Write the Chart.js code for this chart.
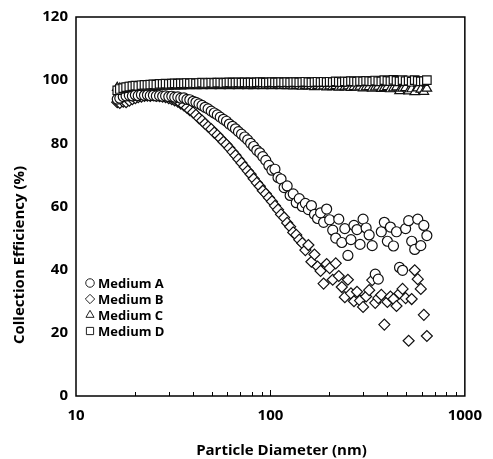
<!DOCTYPE html>
<html>
<head>
<meta charset="utf-8">
<script src="https://cdn.jsdelivr.net/npm/chart.js@4.4.0/dist/chart.umd.min.js"></script>
<style>
  html, body { margin: 0; padding: 0; background: #fff; }
  #wrap { width: 493px; height: 459px; }
</style>
</head>
<body>
<div id="wrap"><canvas id="effChart" width="493" height="459"></canvas></div>
<script>
// SMPS channel midpoints (nm)
const diameters = [
  16.3, 16.8, 17.5, 18.1, 18.8, 19.5, 20.2, 20.9, 21.7, 22.5,
  23.3, 24.1, 25.0, 25.9, 26.9, 27.9, 28.9, 30.0, 31.1, 32.2,
  33.4, 34.6, 35.9, 37.2, 38.5, 40.0, 41.4, 42.9, 44.5, 46.1,
  47.8, 49.6, 51.4, 53.3, 55.2, 57.3, 59.4, 61.5, 63.8, 66.1,
  68.5, 71.0, 73.7, 76.4, 79.1, 82.0, 85.1, 88.2, 91.4, 94.7,
  98.2, 101.8, 105.5, 109.4, 113.4, 117.6, 121.9, 126.3, 131.0, 135.8,
  140.7, 145.9, 151.2, 156.8, 162.5, 168.5, 174.7, 181.1, 187.7, 194.6,
  201.7, 209.1, 216.7, 224.7, 232.9, 241.4, 250.3, 259.5, 269.0, 278.8,
  289.0, 299.6, 310.6, 322.0, 333.8, 346.0, 358.7, 371.8, 385.4, 399.5,
  414.2, 429.4, 445.1, 461.4, 478.3, 495.8, 514.0, 532.8, 552.3, 572.5,
  593.5, 615.3, 637.8
];

// collection efficiency (%) per channel
const mediumA = [
  94.0, 94.3, 94.8, 95.0, 95.2, 95.0, 95.3, 95.1, 95.4, 95.2,
  95.3, 95.1, 95.2, 95.0, 95.1, 94.9, 95.0, 94.8, 94.9, 94.6,
  94.7, 94.3, 94.4, 93.9, 93.8, 93.3, 93.0, 92.5, 92.0, 91.4,
  90.9, 90.2, 89.6, 89.0, 88.3, 87.6, 87.0, 86.1, 85.4, 84.6,
  83.7, 82.9, 82.0, 81.1, 80.0, 79.0, 77.8, 77.0, 75.8, 74.6,
  73.0, 71.5, 71.8, 69.2, 68.7, 66.0, 66.5, 63.5, 64.0, 61.2,
  62.5, 60.0, 61.0, 59.0, 60.3, 57.5, 56.2, 58.0, 55.0, 59.2,
  55.8, 52.5, 50.0, 56.0, 48.6, 53.0, 44.5, 49.5, 54.0, 52.7,
  48.0, 56.0, 53.2, 51.0, 47.6, 38.6, 37.0, 52.0, 55.0, 49.0,
  53.5, 47.5, 52.0, 40.7, 39.8, 53.0, 55.5, 49.0, 46.4, 56.0,
  47.6, 54.0, 50.8
];
const mediumB = [
  93.0, 92.8, 93.2, 93.0, 93.5, 94.0, 94.3, 94.6, 94.8, 95.0,
  95.1, 95.0, 95.2, 95.0, 94.9, 94.8, 94.6, 94.3, 94.0, 93.6,
  93.2, 92.6, 92.0, 91.3, 90.5, 89.8, 89.0, 88.0, 87.2, 86.2,
  85.3, 84.5, 83.4, 82.6, 81.6, 80.5, 79.6, 78.5, 77.3, 76.2,
  75.0, 73.8, 72.5, 71.3, 70.2, 68.8, 67.5, 66.4, 65.0, 64.0,
  62.8, 61.6, 60.2, 59.0, 57.5, 56.5, 54.8, 53.6, 51.8, 51.0,
  49.5, 48.4, 46.2, 47.8, 42.5, 44.8, 41.0, 39.6, 35.6, 41.8,
  40.5, 36.8, 42.0, 38.0, 34.5, 31.3, 36.8, 32.5, 30.0, 33.0,
  30.2, 28.2, 31.5, 33.5, 36.7, 29.5, 31.0, 32.0, 22.6, 29.8,
  31.5, 30.7, 28.5, 32.5, 33.9, 31.0, 17.5, 30.7, 39.8, 37.0,
  33.9, 25.7, 19.0
];
const mediumC = [
  97.6, 97.4, 97.3, 97.5, 97.6, 97.7, 97.8, 97.7, 97.9, 97.8,
  97.9, 98.0, 97.9, 98.0, 98.1, 98.0, 98.1, 98.0, 98.2, 98.1,
  98.2, 98.1, 98.2, 98.3, 98.2, 98.3, 98.2, 98.3, 98.2, 98.3,
  98.3, 98.2, 98.4, 98.3, 98.2, 98.4, 98.3, 98.2, 98.4, 98.3,
  98.2, 98.3, 98.4, 98.2, 98.3, 98.2, 98.4, 98.3, 98.2, 98.3,
  98.3, 98.2, 98.3, 98.4, 98.2, 98.3, 98.2, 98.3, 98.1, 98.3,
  98.2, 98.0, 98.3, 98.1, 98.2, 97.9, 98.2, 98.0, 98.1, 97.8,
  98.1, 97.9, 98.2, 97.7, 98.0, 97.8, 98.1, 97.6, 97.9, 97.7,
  98.0, 97.5, 97.8, 97.9, 97.4, 97.7, 98.0, 97.3, 97.6, 97.9,
  97.2, 97.5, 97.8, 96.6, 97.4, 97.6, 96.5, 97.2, 96.3, 97.5,
  97.1, 96.4, 97.4
];
const mediumD = [
  96.8, 97.2, 97.5, 97.8, 98.0, 98.1, 98.3, 98.2, 98.4, 98.5,
  98.5, 98.6, 98.7, 98.6, 98.8, 98.8, 98.9, 98.8, 98.9, 99.0,
  98.9, 99.0, 99.0, 99.1, 99.0, 99.1, 99.0, 99.1, 99.2, 99.1,
  99.1, 99.2, 99.1, 99.2, 99.2, 99.1, 99.2, 99.3, 99.2, 99.2,
  99.3, 99.2, 99.3, 99.2, 99.3, 99.2, 99.3, 99.4, 99.3, 99.2,
  99.3, 99.4, 99.3, 99.3, 99.4, 99.3, 99.4, 99.3, 99.4, 99.4,
  99.3, 99.4, 99.5, 99.4, 99.3, 99.4, 99.5, 99.4, 99.5, 99.4,
  99.5, 99.4, 99.6, 99.5, 99.4, 99.6, 99.5, 99.7, 99.6, 99.5,
  99.7, 99.6, 99.8, 99.7, 99.6, 99.9, 99.7, 99.6, 100.0, 99.8,
  99.7, 100.1, 99.8, 99.6, 100.0, 99.7, 99.9, 99.5, 100.0, 99.8,
  99.6, 99.7, 100.0
];

const yTicks = [0, 20, 40, 60, 80, 100, 120];
const xLabels = [10, 100, 1000];
const xInnerTicks = [20, 30, 40, 50, 60, 70, 80, 90, 100, 200, 300, 400, 500, 600, 700, 800, 900];

const FONT = '"Open Sans", "Noto Sans", Arial, sans-serif';

const toPoints = vals => diameters.map((d, i) => ({ x: d, y: vals[i] }));

const markerLook = { backgroundColor: '#fff', borderColor: '#111', borderWidth: 1.2, showLine: false };

// frame, inner x ticks, axis titles and the in-plot legend
const decorations = {
  id: 'decorations',
  afterDraw(chart) {
    const { ctx, chartArea: a, scales: { x } } = chart;
    ctx.save();

    ctx.strokeStyle = '#000';
    ctx.lineWidth = 1.5;
    ctx.strokeRect(a.left, a.top, a.right - a.left, a.bottom - a.top);

    ctx.lineWidth = 1;
    ctx.beginPath();
    xInnerTicks.forEach(v => {
      const px = Math.round(x.getPixelForValue(v)) + 0.5;
      const len = v === 100 ? 6 : 4;
      ctx.moveTo(px, a.bottom);
      ctx.lineTo(px, a.bottom - len);
    });
    ctx.stroke();

    ctx.fillStyle = '#000';
    ctx.font = 'bold 15px ' + FONT;
    ctx.textAlign = 'center';
    ctx.textBaseline = 'middle';
    ctx.fillText('Particle Diameter (nm)', (a.left + a.right) / 2 + 11, a.bottom + 55);

    ctx.save();
    ctx.translate(a.left - 56, a.top + 238);
    ctx.rotate(-Math.PI / 2);
    ctx.fillText('Collection Efficiency (%)', 0, 0);
    ctx.restore();

    // legend
    const lx = a.left + 14;
    const ly0 = a.top + 266;
    ctx.font = 'bold 13px ' + FONT;
    ctx.textAlign = 'left';
    chart.data.datasets.forEach((ds, i) => {
      const ly = ly0 + i * 16;
      ctx.fillStyle = '#fff';
      ctx.strokeStyle = '#222';
      ctx.lineWidth = 1;
      Chart.helpers.drawPoint(ctx, {
        pointStyle: ds.pointStyle, rotation: 0,
        radius: ds.pointRadius * 0.85, borderWidth: 1
      }, lx, ly);
      ctx.fillStyle = '#000';
      ctx.fillText(ds.label, lx + 8, ly + 1);
    });

    ctx.restore();
  }
};

new Chart(document.getElementById('effChart'), {
  type: 'scatter',
  data: {
    datasets: [
      { label: 'Medium A', data: toPoints(mediumA), pointStyle: 'circle', pointRadius: 5, order: 2, ...markerLook },
      { label: 'Medium B', data: toPoints(mediumB), pointStyle: 'rectRot', pointRadius: 5.5, order: 3, ...markerLook },
      { label: 'Medium C', data: toPoints(mediumC), pointStyle: 'triangle', pointRadius: 5.5, order: 1, ...markerLook },
      { label: 'Medium D', data: toPoints(mediumD), pointStyle: 'rect', pointRadius: 6, order: 0, ...markerLook }
    ]
  },
  options: {
    responsive: false,
    animation: false,
    devicePixelRatio: 1,
    layout: { padding: { left: 0, right: 21, top: 7, bottom: 0 } },
    plugins: {
      legend: { display: false },
      tooltip: { enabled: false }
    },
    scales: {
      x: {
        type: 'logarithmic',
        min: 10,
        max: 1000,
        grid: { display: false, drawTicks: false },
        border: { display: false },
        afterBuildTicks: scale => { scale.ticks = xLabels.map(v => ({ value: v })); },
        afterFit: scale => { scale.height = 63; },
        ticks: {
          padding: 11,
          color: '#000',
          maxRotation: 0,
          autoSkip: false,
          font: { family: FONT, size: 15, weight: 'bold' },
          callback: v => String(v)
        }
      },
      y: {
        min: 0,
        max: 120,
        grid: { display: false, drawTicks: false },
        border: { display: false },
        afterBuildTicks: scale => { scale.ticks = yTicks.map(v => ({ value: v })); },
        afterFit: scale => { scale.width = 76; },
        ticks: {
          padding: 8,
          color: '#000',
          font: { family: FONT, size: 15, weight: 'bold' }
        }
      }
    }
  },
  plugins: [decorations]
});
</script>
</body>
</html>
